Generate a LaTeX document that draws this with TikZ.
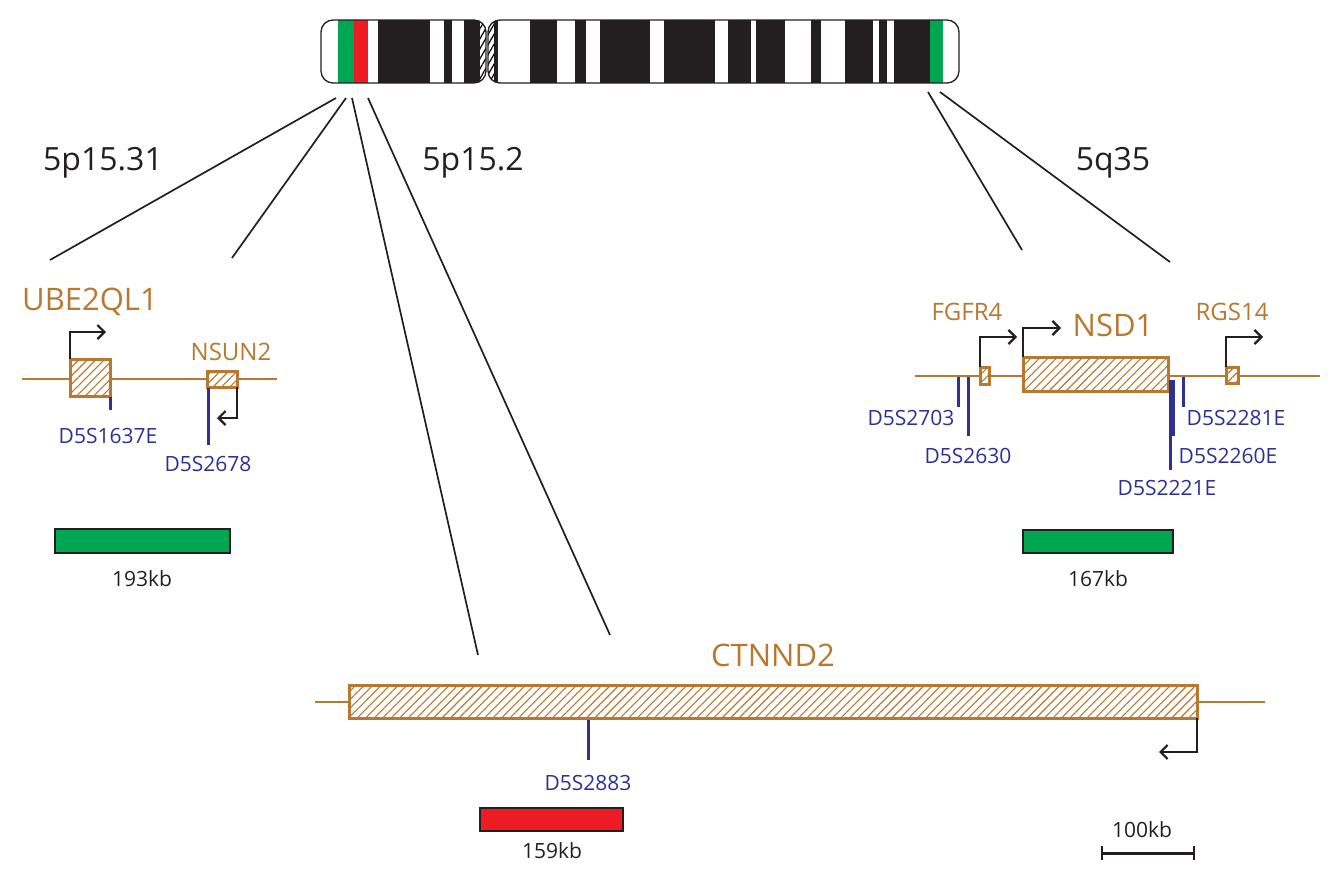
\documentclass[tikz,border=0pt]{standalone}
\usepackage{fontspec}
\setmainfont{Open Sans}
\usetikzlibrary{patterns,patterns.meta,arrows.meta}
\definecolor{gb}{HTML}{B8782F}
\definecolor{mb}{HTML}{2E3192}
\definecolor{cg}{HTML}{00A651}
\definecolor{cr}{HTML}{ED1C24}
\definecolor{ck}{HTML}{231F20}
\begin{document}
\begin{tikzpicture}[x=1pt,y=-1pt,
 gene/.style={draw=gb,line width=3pt,preaction={fill=white},pattern={Lines[angle=45,distance=6pt,line width=1.1pt]},pattern color=gb},
 axis/.style={gb,line width=2.6pt},
 mk/.style={mb,line width=3pt},
 tss/.style={ck,line width=2.2pt,-{Straight Barb[length=7pt,width=14pt]}},
 zoom/.style={ck,line width=1.7pt},
 lab/.style={font=\fontsize{32}{32}\selectfont,text=ck},
 gname/.style={font=\fontsize{31}{31}\selectfont,text=gb},
 sname/.style={font=\fontsize{24}{24}\selectfont,text=gb},
 mname/.style={font=\fontsize{21}{21}\selectfont,text=mb},
 kb/.style={font=\fontsize{21}{21}\selectfont,text=ck},
 bar/.style={draw=ck,line width=2.6pt}]
\useasboundingbox (0,0) rectangle (1342,880);
% chromosome
\begin{scope}
\clip[rounded corners=12pt] (321,20) rectangle (486,83);
\fill[ck] (321,20) rectangle (486,83);
\fill[white] (321,20) rectangle (338,83);
\fill[cg] (338,20) rectangle (354,83);
\fill[cr] (354,20) rectangle (368,83);
\fill[white] (368,20) rectangle (378,83);
\fill[white] (430,20) rectangle (444,83);
\fill[white] (452,20) rectangle (464,83);
\fill[white] (480,20) rectangle (486,83);
\fill[pattern={Lines[angle=60,distance=5pt,line width=1.2pt]}] (480,20) rectangle (486,83);
\end{scope}
\draw[ck,line width=1.3pt,rounded corners=12pt] (321,20) rectangle (486,83);
\begin{scope}
\clip[rounded corners=12pt] (488,20) rectangle (959,83);
\fill[ck] (488,20) rectangle (959,83);
\fill[white] (488,20) rectangle (494,83);
\fill[pattern={Lines[angle=60,distance=5pt,line width=1.2pt]}] (488,20) rectangle (494,83);
\foreach \a/\b in {498/530,557/575,586/600,650/664,715/728,751/756,785/811,821/845,873/879,887/894,943/959}
  \fill[white] (\a,20) rectangle (\b,83);
\fill[cg] (930,20) rectangle (943,83);
\end{scope}
\draw[ck,line width=1.3pt,rounded corners=12pt] (488,20) rectangle (959,83);
\coordinate (c1) at (336,98); \coordinate (c2) at (346,98);
\coordinate (c3) at (352,98); \coordinate (c4) at (368,98);
\coordinate (c5) at (928,92); \coordinate (c6) at (940,92);
\coordinate (e1) at (50,260); \coordinate (e2) at (232,258);
\coordinate (e3) at (478,655); \coordinate (e4) at (610,635);
\coordinate (e5) at (1022,250); \coordinate (e6) at (1170,262);
\foreach \i in {1,...,6} \draw[zoom] (c\i) -- (e\i);
\node[lab] (l1) at (103,163) {5p15.31};
\node[lab] (l2) at (473,163) {5p15.2};
\node[lab] (l3) at (1113,163) {5q35};
% UBE2QL1
\coordinate (a1) at (22,379); \coordinate (a2) at (277,379);
\draw[axis] (a1) -- (a2);
\draw[gene] (70,359) rectangle (110,396);
\draw[gene] (207,371) rectangle (237,387);
\draw[tss] (70,359) -- (70,332) -- (106,332);
\draw[tss] (237,387) -- (237,418) -- (217,418);
\node[gname] (g1) at (90,302) {UBE2QL1};
\node[sname] (g2) at (231,352) {NSUN2};
\draw[mk] (110,397) -- (110,410); \node[mname] (m1) at (108,436) {D5S1637E};
\draw[mk] (208,388) -- (208,445); \node[mname] (m2) at (208,464) {D5S2678};
\draw[bar,fill=cg] (55,529) rectangle (230,553);
\node[kb] (k1) at (142,579) {193kb};
% NSD1
\draw[axis] (915,376) -- (1320,376);
\draw[gene] (980,367) rectangle (989,384);
\draw[gene] (1023,357) rectangle (1168,391);
\draw[gene] (1226,367) rectangle (1238,383);
\draw[tss] (980,367) -- (980,337) -- (1017,337);
\draw[tss] (1023,357) -- (1023,328) -- (1061,328);
\draw[tss] (1226,367) -- (1226,337) -- (1263,337);
\node[gname] (g3) at (1113,325) {NSD1};
\node[sname] (g4) at (967,312) {FGFR4};
\node[sname] (g5) at (1232,312) {RGS14};
\draw[mk] (958,377) -- (958,407); \node[mname] (m3) at (911,418) {D5S2703};
\draw[mk] (968,377) -- (968,436); \node[mname] (m4) at (968,456) {D5S2630};
\draw[mk] (1170,380) -- (1170,470); \node[mname] (m5) at (1167,488) {D5S2221E};
\draw[mk] (1173,380) -- (1173,436); \node[mname] (m6) at (1228,456) {D5S2260E};
\draw[mk] (1183,377) -- (1183,407); \node[mname] (m7) at (1236,418) {D5S2281E};
\draw[bar,fill=cg] (1023,530) rectangle (1173,553);
\node[kb] (k2) at (1098,579) {167kb};
% CTNND2
\draw[axis] (315,702) -- (1265,702);
\draw[gene] (349,685) rectangle (1197,718);
\draw[tss] (1197,718) -- (1197,752) -- (1159,752);
\node[gname] (g6) at (773,655) {CTNND2};
\draw[mk] (588,720) -- (588,760); \node[mname] (m8) at (588,783) {D5S2883};
\draw[bar,fill=cr] (480,808) rectangle (623,831);
\node[kb] (k3) at (552,851) {159kb};
% scale
\coordinate (s1) at (1102,853); \coordinate (s2) at (1194,853);
\draw[ck,line width=3pt] (s1) -- (s2);
\draw[ck,line width=2.5pt] (1102,846) -- (1102,860) (1194,846) -- (1194,860);
\node[kb] (k4) at (1142,830) {100kb};
\end{tikzpicture}
\end{document}
